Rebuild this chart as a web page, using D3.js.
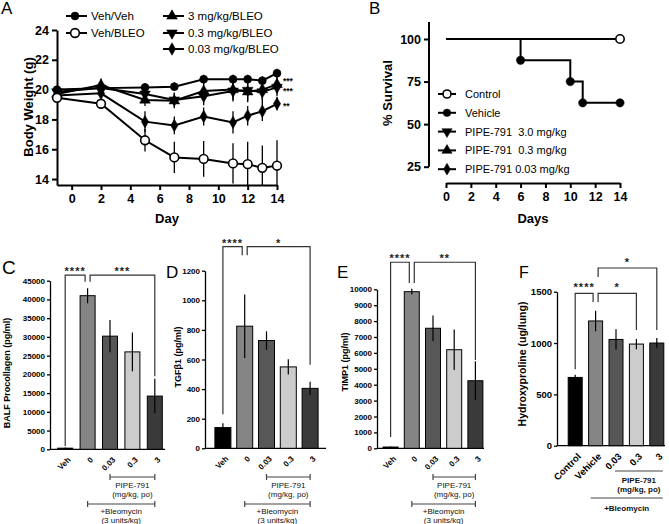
<!DOCTYPE html>
<html>
<head>
<meta charset="utf-8">
<script src="https://cdn.jsdelivr.net/npm/d3@7"></script>
<style>
  body { margin: 0; background: #fff; }
  svg text { font-family: "Liberation Sans", Arial, sans-serif; }
</style>
</head>
<body>
<svg id="fig" width="669" height="524"></svg>
<script>
// ---------------- data ----------------
// A: body weight over time
const daysA = [-1, 2, 5, 7, 9, 11, 12, 13, 14];
const weightVehVeh = [20.0, 20.1, 20.15, 20.2, 20.7, 20.7, 20.7, 20.6, 21.1];
const errVehVeh = [0.2, 0.25, 0.3, 0.3, 0.3, 0.3, 0.3, 0.3, 0.3];
const weightVehBleo = [19.45, 19.05, 16.6, 15.45, 15.35, 15.05, 15.0, 14.75, 14.9];
const errVehBleo = [0.2, 0.3, 0.75, 1.05, 1.2, 1.35, 1.5, 1.5, 1.7];
const weightBleo3 = [19.7, 20.3, 19.3, 19.25, 19.9, 20.0, 19.85, 20.0, 20.35];
const errBleo3 = [0.2, 0.45, 0.4, 0.5, 0.6, 0.7, 0.7, 0.7, 0.6];
const weightBleo03 = [19.85, 20.1, 19.7, 19.3, 19.55, 19.9, 19.95, 19.85, 20.15];
const errBleo03 = [0.2, 0.3, 0.4, 0.5, 0.6, 0.7, 0.7, 0.7, 0.6];
const weightBleo003 = [19.6, 19.75, 17.85, 17.6, 18.2, 17.8, 18.25, 18.55, 19.05];
const errBleo003 = [0.2, 0.3, 0.7, 0.6, 0.6, 0.75, 0.65, 0.65, 0.45];
const weightTicks = [14, 16, 18, 20, 22, 24];
const dayTicksA = [0, 2, 4, 6, 8, 10, 12, 14];

// B: survival
const survDays = [0, 6, 10, 11, 14];
const survControl = [100, 100, 100, 100, 100];
const survVehicle = [100, 87.5, 75, 62.5, 62.5];
const survTicks = [25, 50, 75, 100];
const dayTicksB = [0, 2, 4, 6, 8, 10, 12, 14];

// C-F: bar charts
const doseCats = ['Veh', '0', '0.03', '0.3', '3'];
const hypCats = ['Control', 'Vehicle', '0.03', '0.3', '3'];
const procollagenMean = [300, 41000, 30200, 26000, 14200];
const procollagenErr = [200, 2000, 4300, 5200, 4600];
const procollagenTicks = [0, 5000, 10000, 15000, 20000, 25000, 30000, 35000, 40000, 45000];
const tgfMean = [140, 825, 728, 550, 405];
const tgfErr = [30, 215, 62, 52, 45];
const tgfTicks = [0, 200, 400, 600, 800, 1000, 1200];
const timpMean = [80, 9850, 7550, 6200, 4250];
const timpErr = [40, 180, 800, 1270, 1220];
const timpTicks = [0, 1000, 2000, 3000, 4000, 5000, 6000, 7000, 8000, 9000, 10000];
const hypMean = [665, 1215, 1035, 990, 1000];
const hypErr = [25, 100, 100, 50, 50];
const hypTicks = [0, 500, 1000, 1500];
const barColors = ['#000000', '#858585', '#575757', '#cccccc', '#3a3a3a'];

const svg = d3.select('#fig');

function panelLabel(t, x, y, size) {
  svg.append('text').attr('x', x).attr('y', y)
    .style('font-size', size + 'px').text(t);
}

function styleAxis(g, fs, sw) {
  g.selectAll('text').style('font-size', fs + 'px').style('font-weight', 'bold').attr('fill', '#000');
  g.selectAll('line').attr('stroke', '#000').attr('stroke-width', sw);
  g.select('.domain').attr('stroke', '#000').attr('stroke-width', sw);
}

function markerPath(type, size) {
  if (type === 'circle' || type === 'open') return d3.symbol(d3.symbolCircle, size)();
  if (type === 'diamond') return d3.symbol(d3.symbolDiamond, size * 0.9)();
  return d3.symbol(d3.symbolTriangle, size)();
}

function drawMarker(g, type, x, y, size) {
  g.append('path')
    .attr('d', markerPath(type, size))
    .attr('transform', `translate(${x},${y})` + (type === 'down' ? ' rotate(180)' : ''))
    .attr('fill', type === 'open' ? '#fff' : '#000')
    .attr('stroke', '#000')
    .attr('stroke-width', type === 'open' ? 1.6 : 0.5);
}

// ---------------- Panel A ----------------
{
  const g = svg.append('g').attr('class', 'panelA');
  const x = d3.scaleLinear().domain([-1, 14]).range([57, 277]);
  const y = d3.scaleLinear().domain([13.6, 24]).range([185, 30]);

  const yAxis = g.append('g').attr('transform', 'translate(57,0)')
    .call(d3.axisLeft(y).tickValues(weightTicks).tickSize(5).tickSizeOuter(0).tickPadding(3));
  styleAxis(yAxis, 12.5, 2);
  const xAxis = g.append('g').attr('transform', 'translate(0,185)')
    .call(d3.axisBottom(x).tickValues(dayTicksA).tickSize(5).tickSizeOuter(0).tickPadding(4));
  styleAxis(xAxis, 12.5, 2);

  g.append('text').attr('transform', 'translate(33,107) rotate(-90)')
    .attr('text-anchor', 'middle').style('font-size', '13px').style('font-weight', 'bold')
    .text('Body Weight (g)');
  g.append('text').attr('x', 167).attr('y', 223).attr('text-anchor', 'middle')
    .style('font-size', '13px').style('font-weight', 'bold').text('Day');

  const series = [
    { name: 'Veh/Veh', mean: weightVehVeh, err: errVehVeh, type: 'circle' },
    { name: '3 mg/kg/BLEO', mean: weightBleo3, err: errBleo3, type: 'up' },
    { name: '0.3 mg/kg/BLEO', mean: weightBleo03, err: errBleo03, type: 'down' },
    { name: '0.03 mg/kg/BLEO', mean: weightBleo003, err: errBleo003, type: 'diamond' },
    { name: 'Veh/BLEO', mean: weightVehBleo, err: errVehBleo, type: 'open' }
  ];
  const line = d3.line().x(d => x(d[0])).y(d => y(d[1]));
  const lo = y.domain()[0];

  series.forEach(s => {
    const pts = daysA.map((d, i) => [d, s.mean[i]]);
    g.append('g').selectAll('line').data(pts).enter().append('line')
      .attr('x1', d => x(d[0])).attr('x2', d => x(d[0]))
      .attr('y1', (d, i) => y(Math.max(lo, d[1] - s.err[i])))
      .attr('y2', (d, i) => y(d[1] + s.err[i]))
      .attr('stroke', '#000').attr('stroke-width', 1.3);
    g.append('path').datum(pts).attr('d', line)
      .attr('fill', 'none').attr('stroke', '#000').attr('stroke-width', 2);
  });
  series.forEach(s => {
    daysA.forEach((d, i) => drawMarker(g, s.type, x(d), y(s.mean[i]), s.type === 'open' ? 60 : 50));
  });

  // significance
  [['***', 84], ['***', 94], ['**', 109]].forEach(([t, yy]) => {
    g.append('text').attr('x', 283).attr('y', yy)
      .style('font-size', '8.5px').style('font-weight', 'bold').text(t);
  });

  // legend
  const legA = [
    { name: 'Veh/Veh', type: 'circle', x: 66, y: 16 },
    { name: 'Veh/BLEO', type: 'open', x: 66, y: 33 },
    { name: '3 mg/kg/BLEO', type: 'up', x: 163, y: 16 },
    { name: '0.3 mg/kg/BLEO', type: 'down', x: 163, y: 33 },
    { name: '0.03 mg/kg/BLEO', type: 'diamond', x: 163, y: 49 }
  ];
  legA.forEach(l => {
    g.append('line').attr('x1', l.x).attr('x2', l.x + 21).attr('y1', l.y).attr('y2', l.y)
      .attr('stroke', '#000').attr('stroke-width', 2);
    drawMarker(g, l.type, l.x + 9, l.y, l.type === 'open' ? 60 : 50);
    g.append('text').attr('x', l.x + 25).attr('y', l.y + 4)
      .style('font-size', '11.5px').text(l.name);
  });
}

// ---------------- Panel B ----------------
{
  const g = svg.append('g').attr('class', 'panelB');
  const x = d3.scaleLinear().domain([0, 14]).range([446, 620]);
  const y = d3.scaleLinear().domain([25, 100]).range([166.7, 39]);

  const yAxis = g.append('g').attr('transform', 'translate(429,0)')
    .call(d3.axisLeft(y).tickValues(survTicks).tickSize(5).tickSizeOuter(0).tickPadding(3));
  yAxis.select('.domain').attr('d', `M0,${y(110)}V${y(25)}`);
  styleAxis(yAxis, 12.5, 2);
  const xAxis = g.append('g').attr('transform', 'translate(0,183)')
    .call(d3.axisBottom(x).tickValues(dayTicksB).tickSize(5).tickSizeOuter(0).tickPadding(4));
  styleAxis(xAxis, 12.5, 2);

  g.append('text').attr('transform', 'translate(392,93) rotate(-90)')
    .attr('text-anchor', 'middle').style('font-size', '13px').style('font-weight', 'bold')
    .text('% Survival');
  g.append('text').attr('x', 533).attr('y', 223).attr('text-anchor', 'middle')
    .style('font-size', '13px').style('font-weight', 'bold').text('Days');

  const step = d3.line().x(d => x(d[0])).y(d => y(d[1])).curve(d3.curveStepAfter);
  const veh = survDays.map((d, i) => [d, survVehicle[i]]);
  const ctl = survDays.map((d, i) => [d, survControl[i]]);
  g.append('path').datum(veh).attr('d', step).attr('fill', 'none')
    .attr('stroke', '#000').attr('stroke-width', 2);
  g.append('path').datum(ctl).attr('d', step).attr('fill', 'none')
    .attr('stroke', '#000').attr('stroke-width', 2);
  veh.slice(1).forEach(d => drawMarker(g, 'circle', x(d[0]), y(d[1]), 55));
  drawMarker(g, 'open', x(14), y(100), 55);

  const legB = [
    { name: 'Control', type: 'open' },
    { name: 'Vehicle', type: 'circle' },
    { name: 'PIPE-791  3.0 mg/kg', type: 'down' },
    { name: 'PIPE-791  0.3 mg/kg', type: 'up' },
    { name: 'PIPE-791 0.03 mg/kg', type: 'diamond' }
  ];
  legB.forEach((l, i) => {
    const ly = 94 + i * 18.8;
    g.append('line').attr('x1', 438).attr('x2', 456).attr('y1', ly).attr('y2', ly)
      .attr('stroke', '#000').attr('stroke-width', 2);
    drawMarker(g, l.type, 447, ly, l.type === 'open' ? 50 : 45);
    g.append('text').attr('x', 465).attr('y', ly + 4)
      .style('font-size', '11px').style('white-space', 'pre').text(l.name);
  });
}

// ---------------- bar panels ----------------
function barPanel(p) {
  const g = svg.append('g');
  const x = d3.scalePoint().domain(d3.range(p.cats.length)).range(p.band).padding(0.5);
  const y = d3.scaleLinear().domain([0, p.max]).range([p.y0, p.yTop]);

  const yAxis = g.append('g').attr('transform', `translate(${p.axisX},0)`)
    .call(d3.axisLeft(y).tickValues(p.ticks).tickFormat(d3.format('d'))
      .tickSize(3).tickSizeOuter(0).tickPadding(2));
  styleAxis(yAxis, p.tickFs, 1.3);
  g.append('line').attr('x1', p.axisX).attr('x2', p.xEnd).attr('y1', p.y0).attr('y2', p.y0)
    .attr('stroke', '#000').attr('stroke-width', 1.3);

  g.append('text').attr('transform', `translate(${p.labelX},${p.labelY}) rotate(-90)`)
    .attr('text-anchor', 'middle').style('font-size', p.labelFs + 'px').style('font-weight', 'bold')
    .text(p.label);

  g.selectAll('rect.bar').data(p.mean).enter().append('rect')
    .attr('class', 'bar')
    .attr('x', (d, i) => x(i) - p.barW / 2)
    .attr('y', d => y(d))
    .attr('width', p.barW)
    .attr('height', d => p.y0 - y(d))
    .attr('fill', (d, i) => barColors[i])
    .attr('stroke', '#000').attr('stroke-width', 1);

  g.selectAll('line.err').data(p.mean).enter().append('line')
    .attr('class', 'err')
    .attr('x1', (d, i) => x(i)).attr('x2', (d, i) => x(i))
    .attr('y1', (d, i) => y(Math.max(0, d - p.err[i])))
    .attr('y2', (d, i) => y(d + p.err[i]))
    .attr('stroke', '#000').attr('stroke-width', 1.2);

  // category labels
  p.cats.forEach((c, i) => {
    g.append('text')
      .attr('transform', `translate(${x(i) + 4},${p.y0 + 9}) rotate(-45)`)
      .attr('text-anchor', 'end').attr('dy', '0.35em')
      .style('font-size', p.catFs + 'px').style('font-weight', 'bold').text(c);
  });

  // significance brackets
  p.brackets.forEach(b => {
    const xa = x(b.a) + (b.a === 1 ? 2.5 : 0);
    const xb = x(b.b) - (b.b === 1 ? 2.5 : 0);
    g.append('path')
      .attr('d', `M${xa},${y(b.legA)}V${y(b.top)}H${xb}V${y(b.legB)}`)
      .attr('fill', 'none').attr('stroke', '#333').attr('stroke-width', 1.2);
    g.append('text').attr('x', (xa + xb) / 2).attr('y', y(b.top) - p.starGap)
      .attr('text-anchor', 'middle').style('font-size', '11px').style('font-weight', 'bold')
      .style('letter-spacing', '1px').attr('fill', '#222').text(b.label);
  });

  // treatment group lines under the axis
  p.groups.forEach(gr => {
    const x1 = x(gr.from) - gr.pad[0], x2 = x(gr.to) + gr.pad[1];
    g.append('line').attr('x1', x1).attr('x2', x2).attr('y1', gr.y).attr('y2', gr.y)
      .attr('stroke', '#444').attr('stroke-width', 1.2);
    if (p.endTicks) {
      [x1, x2].forEach(xx => g.append('line').attr('x1', xx).attr('x2', xx)
        .attr('y1', gr.y - 3).attr('y2', gr.y + 3).attr('stroke', '#444').attr('stroke-width', 1.2));
    }
    gr.lines.forEach((t, k) => {
      g.append('text').attr('x', (x1 + x2) / 2).attr('y', gr.y + gr.first + k * 8.5)
        .attr('text-anchor', 'middle').style('font-size', p.groupFs + 'px')
        .style('font-weight', p.groupBold ? 'bold' : 'normal').attr('fill', '#111').text(t);
    });
  });
}

const doseGroups = [
  { from: 2, to: 4, y: 477, first: 11, pad: [0, 0], lines: ['PIPE-791', '(mg/kg, po)'] },
  { from: 1, to: 4, y: 504, first: 10, pad: [0, 0], lines: ['+Bleomycin', '(3 units/kg)'] }
];

barPanel({
  cats: doseCats, mean: procollagenMean, err: procollagenErr, ticks: procollagenTicks, max: 45000,
  axisX: 50, xEnd: 165, band: [54, 166], y0: 449.3, yTop: 280.7, barW: 15,
  label: 'BALF Procollagen (pg/ml)', labelX: 10, labelY: 373, labelFs: 9, tickFs: 8, catFs: 8,
  starGap: 0,
  brackets: [
    { a: 0, b: 1, top: 46500, legA: 900, legB: 44700, label: '****' },
    { a: 1, b: 4, top: 46500, legA: 44700, legB: 19500, label: '***' }
  ],
  groups: doseGroups, endTicks: true, groupFs: 8, groupBold: false
});

barPanel({
  cats: doseCats, mean: tgfMean, err: tgfErr, ticks: tgfTicks, max: 1200,
  axisX: 205, xEnd: 326, band: [212, 321], y0: 448.3, yTop: 270.7, barW: 16,
  label: 'TGFβ1 (pg/ml)', labelX: 181, labelY: 357, labelFs: 9, tickFs: 8, catFs: 8,
  starGap: 0,
  brackets: [
    { a: 0, b: 1, top: 1362, legA: 230, legB: 1305, label: '****' },
    { a: 1, b: 4, top: 1362, legA: 1305, legB: 565, label: '*' }
  ],
  groups: doseGroups, endTicks: true, groupFs: 8, groupBold: false
});

barPanel({
  cats: doseCats, mean: timpMean, err: timpErr, ticks: timpTicks, max: 10000,
  axisX: 377, xEnd: 484, band: [380, 486], y0: 448.3, yTop: 289.3, barW: 15,
  label: 'TIMP1 (pg/ml)', labelX: 348, labelY: 362, labelFs: 9, tickFs: 8, catFs: 8,
  starGap: 0,
  brackets: [
    { a: 0, b: 1, top: 11700, legA: 710, legB: 10400, label: '****' },
    { a: 1, b: 4, top: 11700, legA: 10400, legB: 5550, label: '**' }
  ],
  groups: doseGroups, endTicks: true, groupFs: 8, groupBold: false
});

barPanel({
  cats: hypCats, mean: hypMean, err: hypErr, ticks: hypTicks, max: 1500,
  axisX: 557, xEnd: 665, band: [565, 667], y0: 445.7, yTop: 291.7, barW: 14,
  label: 'Hydroxyproline (ug/lung)', labelX: 526, labelY: 364, labelFs: 10.5, tickFs: 9.5, catFs: 9.5,
  starGap: 2,
  brackets: [
    { a: 0, b: 1, top: 1484, legA: 744, legB: 1400, label: '****' },
    { a: 1, b: 3, top: 1484, legA: 1400, legB: 1127, label: '*' },
    { a: 1, b: 4, top: 1731, legA: 1643, legB: 1127, label: '*' }
  ],
  groups: [
    { from: 2, to: 4, y: 471, first: 12, pad: [1, 6], lines: ['PIPE-791', '(mg/kg, po)'] },
    { from: 1, to: 4, y: 498, first: 13, pad: [5, 6], lines: ['+Bleomycin'] }
  ],
  endTicks: false, groupFs: 8, groupBold: true
});

// panel letters
panelLabel('A', 1, 14, 17);
panelLabel('B', 369, 14, 17);
panelLabel('C', 2, 274, 19);
panelLabel('D', 166, 278, 17);
panelLabel('E', 337, 278, 17);
panelLabel('F', 519, 278, 16);
</script>
</body>
</html>
